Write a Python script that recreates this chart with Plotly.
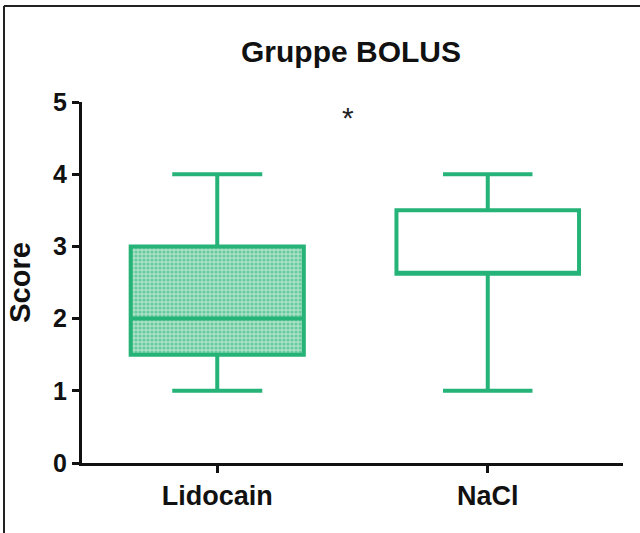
import plotly.graph_objects as go

# Score summary per group (five-number summary)
groups = ["Lidocain", "NaCl"]
lower_whisker = [1.0, 1.0]
q1 = [1.5, 2.62]
median = [2.0, 2.62]
q3 = [3.0, 3.5]
upper_whisker = [4.0, 4.0]

y_ticks = [0, 1, 2, 3, 4, 5]
sig_label = "*"
sig_pos = (0.485, 4.83)

GREEN = "#25b378"
FONT = "Liberation Sans, Arial, sans-serif"
BOX_W = [0.64, 0.675]
CAP_W = [0.52, 0.49]

fig = go.Figure()

# dotted fill of the Lidocain box (drawn under the box outline)
fig.add_trace(go.Bar(
    x=[groups[0]], y=[q3[0] - q1[0]], base=[q1[0]], width=BOX_W[0],
    marker=dict(color="#a2ddc0", line=dict(width=0),
                pattern=dict(shape=".", fgcolor=GREEN, bgcolor="#abe1c6",
                             size=4, solidity=0.5)),
    hoverinfo="skip", showlegend=False,
))

fills = ["rgba(0,0,0,0)", "white"]
for i, g in enumerate(groups):
    fig.add_trace(go.Box(
        x=[g], q1=[q1[i]], median=[median[i]], q3=[q3[i]],
        lowerfence=[lower_whisker[i]], upperfence=[upper_whisker[i]],
        width=BOX_W[i], whiskerwidth=CAP_W[i],
        line=dict(color=GREEN, width=4), fillcolor=fills[i],
        showlegend=False,
    ))

fig.add_annotation(x=sig_pos[0], y=sig_pos[1], text=sig_label, showarrow=False,
                   font=dict(family=FONT, size=30, color="#222"), yshift=-3)

# outer frame lines (top and left)
fig.add_shape(type="line", xref="paper", yref="paper",
              x0=(4 - 82) / 541, x1=(640 - 82) / 541,
              y0=1 + (102 - 6) / 361, y1=1 + (102 - 6) / 361,
              line=dict(color="#222", width=2))
fig.add_shape(type="line", xref="paper", yref="paper",
              x0=(4 - 82) / 541, x1=(4 - 82) / 541,
              y0=-(533 - 463) / 361, y1=1 + (102 - 6) / 361,
              line=dict(color="#222", width=2))

fig.update_layout(
    width=640, height=533,
    margin=dict(l=82, r=17, t=102, b=70),
    paper_bgcolor="white", plot_bgcolor="white",
    boxmode="overlay", barmode="overlay",
    title=dict(text="<b>Gruppe BOLUS</b>", x=(351 / 640), xanchor="center",
               y=1 - 51 / 533, yanchor="middle",
               font=dict(family=FONT, size=30, color="#111")),
    font=dict(family=FONT, color="#111"),
)

fig.update_xaxes(
    range=[-0.5, 1.5], showline=True, linecolor="#111", linewidth=3,
    ticks="outside", ticklen=7, tickwidth=2.5, tickcolor="#111",
    tickfont=dict(family=FONT, size=27, color="#111"),
    tickvals=groups, ticktext=[f"<b>{g}</b>" for g in groups],
    showgrid=False, zeroline=False,
)
fig.update_yaxes(
    range=[0, 5], tickvals=y_ticks, ticktext=[f"<b>{t}</b>" for t in y_ticks],
    showline=True, linecolor="#111", linewidth=3,
    ticks="outside", ticklen=7, tickwidth=2.5, tickcolor="#111",
    tickfont=dict(family=FONT, size=25, color="#111"),
    title=dict(text="<b>Score</b>", font=dict(family=FONT, size=29, color="#111"),
               standoff=14),
    showgrid=False, zeroline=False,
)

fig.write_html("out.html")
